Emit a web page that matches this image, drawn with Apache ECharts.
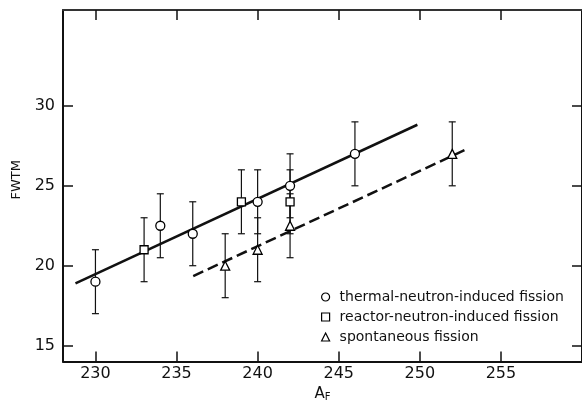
<!DOCTYPE html>
<html>
<head>
<meta charset="utf-8">
<script src="https://cdn.jsdelivr.net/npm/echarts@6/dist/echarts.min.js"></script>
<style>html,body{margin:0;padding:0;background:#fff}#c{width:582px;height:407px}</style>
</head>
<body>
<div id="c"></div>
<script>
// Data: [A_F, FWTM, low, high]
var thermalX = [230, 234, 236, 240, 242, 246];
var thermalY = [19, 22.5, 22, 24, 25, 27];
var thermalLo = [17, 20.5, 20, 22, 23, 25];
var thermalHi = [21, 24.5, 24, 26, 27, 29];

var reactorX = [233, 239, 242];
var reactorY = [21, 24, 24];
var reactorLo = [19, 22, 22];
var reactorHi = [23, 26, 26];

var spontX = [238, 240, 242, 252];
var spontY = [20, 21, 22.5, 27];
var spontLo = [18, 19, 20.5, 25];
var spontHi = [22, 23, 24.5, 29];

var solidFit = [[228.77, 18.9], [249.85, 28.82]];
var dashedFit = [[236.03, 19.35], [252.97, 27.33]];

var xTicks = [230, 235, 240, 245, 250, 255];
var yTicks = [15, 20, 25, 30];

var seriesNames = ['thermal-neutron-induced fission', 'reactor-neutron-induced fission', 'spontaneous fission'];

function pts(xs, ys) { return xs.map(function (x, i) { return [x, ys[i]]; }); }
function errs(xs, lo, hi) { return xs.map(function (x, i) { return [x, lo[i], hi[i]]; }); }

var allErr = errs(thermalX, thermalLo, thermalHi)
  .concat(errs(reactorX, reactorLo, reactorHi))
  .concat(errs(spontX, spontLo, spontHi));

var font = 'DejaVu Sans';
var marker = { color: '#fff', borderColor: '#000', borderWidth: 1.3, opacity: 1 };

var chart = echarts.init(document.getElementById('c'), null, { renderer: 'canvas' });

function axisCommon(ticks, showLabel) {
  return {
    type: 'value',
    axisLine: { show: true, onZero: false, lineStyle: { color: '#111', width: 2 } },
    axisTick: { show: true, inside: true, length: 10, lineStyle: { color: '#111', width: 1.5 }, customValues: ticks },
    axisLabel: { show: showLabel, customValues: ticks, color: '#111', fontFamily: font, fontSize: 16 },
    splitLine: { show: false }
  };
}

var xb = axisCommon(xTicks, true);
xb.min = 228; xb.max = 260; xb.position = 'bottom';
xb.axisLabel.margin = 4;
xb.name = '{a|A}{f|F}';
xb.nameLocation = 'middle';
xb.nameGap = 24;
xb.nameTextStyle = { rich: { a: { fontFamily: font, fontSize: 15, color: '#111' }, f: { fontFamily: font, fontSize: 10, color: '#111', verticalAlign: 'bottom', padding: [6, 0, 0, 0] } } };

var xt = axisCommon(xTicks, false);
xt.min = 228; xt.max = 260; xt.position = 'top';
xt.axisLine.lineStyle.color = '#333';

var yl = axisCommon(yTicks, true);
yl.min = 14; yl.max = 36; yl.position = 'left';
yl.axisLabel.margin = 8;
yl.name = 'FWTM';
yl.nameLocation = 'middle';
yl.nameGap = 40;
yl.nameTextStyle = { fontFamily: font, fontSize: 13, color: '#111', padding: [0, 0, 0, 12] };

var yr = axisCommon(yTicks, false);
yr.min = 14; yr.max = 36; yr.position = 'right';

chart.setOption({
  animation: false,
  backgroundColor: '#fff',
  grid: { left: 63, right: 0, top: 10, bottom: 39, containLabel: false },
  xAxis: [xb, xt],
  yAxis: [yl, yr],
  legend: {
    data: seriesNames,
    orient: 'vertical',
    left: 321,
    top: 290,
    padding: 0,
    itemWidth: 8,
    itemHeight: 8,
    itemGap: 6,
    textStyle: { fontFamily: font, fontSize: 14, color: '#111', padding: [0, 0, 0, 5] },
    itemStyle: { borderWidth: 1.2 }
  },
  series: [
    {
      type: 'custom',
      silent: true,
      data: allErr,
      z: 1,
      renderItem: function (params, api) {
        var x = api.value(0);
        var top = api.coord([x, api.value(2)]);
        var bot = api.coord([x, api.value(1)]);
        var w = 3.5;
        var st = { stroke: '#111', lineWidth: 1.2 };
        return {
          type: 'group',
          children: [
            { type: 'line', shape: { x1: top[0], y1: top[1], x2: bot[0], y2: bot[1] }, style: st },
            { type: 'line', shape: { x1: top[0] - w, y1: top[1], x2: top[0] + w, y2: top[1] }, style: st },
            { type: 'line', shape: { x1: bot[0] - w, y1: bot[1], x2: bot[0] + w, y2: bot[1] }, style: st }
          ]
        };
      }
    },
    {
      type: 'line', data: solidFit, showSymbol: false, symbol: 'none', z: 2,
      lineStyle: { color: '#111', width: 2.5 }
    },
    {
      type: 'line', data: dashedFit, showSymbol: false, symbol: 'none', z: 2,
      lineStyle: { color: '#111', width: 2.5, type: [11, 5] }
    },
    {
      name: seriesNames[0], type: 'scatter', data: pts(thermalX, thermalY), symbol: 'circle', symbolSize: 9, z: 3,
      itemStyle: marker
    },
    {
      name: seriesNames[1], type: 'scatter', data: pts(reactorX, reactorY), symbol: 'rect', symbolSize: 8, z: 3,
      itemStyle: marker
    },
    {
      name: seriesNames[2], type: 'scatter', data: pts(spontX, spontY), symbol: 'triangle', symbolSize: 9, z: 3,
      itemStyle: marker
    }
  ]
});
</script>
</body>
</html>
